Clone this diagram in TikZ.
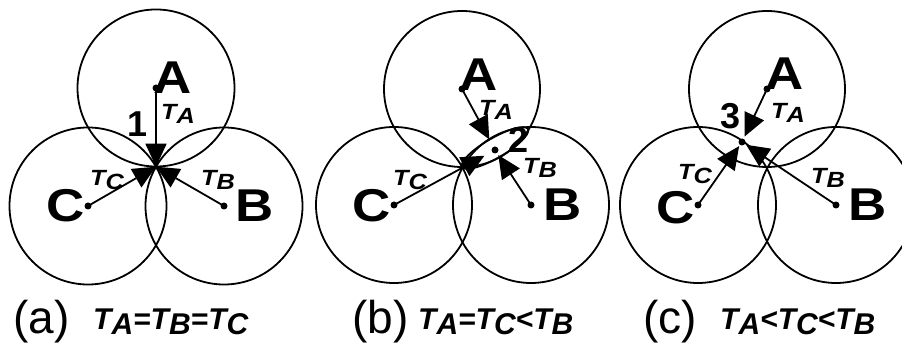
\documentclass[tikz,border=0pt]{standalone}
\usepackage{fontspec}
\setmainfont{Liberation Sans}
\usetikzlibrary{arrows.meta}
\newcommand\Ts[1]{T\raisebox{-0.15em}{#1}}
\newcommand\wide[1]{\scalebox{1.15}[1]{#1}}
\begin{document}
\begin{tikzpicture}[x=1pt, y=-1pt, line width=1.8pt, line join=round,
        arr/.style={-{Triangle[length=23pt, width=21pt]}},
        big/.style={font=\fontsize{46}{46}\selectfont\bfseries},
        num/.style={font=\fontsize{36}{36}\selectfont\bfseries},
        tlab/.style={font=\fontsize{22}{22}\selectfont\bfseries\itshape},
        panel/.style={font=\fontsize{46}{46}\selectfont, anchor=base west},
        rel/.style={font=\fontsize{30}{30}\selectfont\bfseries\itshape, anchor=base west}]
        \def\r{78}
        \useasboundingbox (0,0) rectangle (902,344);
        \clip (0,0) rectangle (902,344);
        % (a)
        \coordinate (aA) at (156,88);
        \coordinate (aB) at (224,206);
        \coordinate (aC) at (88,206);
        \coordinate (aO) at (156,166.7);
        \foreach \p in {aA,aB,aC} \draw (\p) circle (78.5);
        \draw[arr] (aA) -- (aO);
        \draw[arr] (aB) -- (aO);
        \draw[arr] (aC) -- (aO);
        \foreach \p in {aA,aB,aC} \fill (\p) circle (3.5pt);
        \node[big] (aLA) at (173,78) {\wide{A}};
        \node[big] (aLB) at (255,206) {\wide{B}};
        \node[big] (aLC) at (66,206) {\wide{C}};
        \node[tlab] (aTA) at (178,114) {\wide{\Ts{A}}};
        \node[tlab] (aTB) at (218,180) {\wide{\Ts{B}}};
        \node[tlab] (aTC) at (107,180) {\wide{\Ts{C}}};
        \node[num] (aN) at (138,124) {1};
        % (b)
        \coordinate (bA) at (462,89);
        \coordinate (bB) at (531,205);
        \coordinate (bC) at (394,205);
        \coordinate (bP) at (495,150);
        \coordinate (bE) at (495,148);
        \foreach \p in {bA,bB,bC} \draw (\p) circle (\r);
        \draw[rotate around={30:(bE)}] (bE) ellipse (38 and 10);
        \draw[arr, shorten >=12pt] (bA) -- (bP);
        \draw[arr, shorten >=6pt] (bB) -- (bP);
        \draw[arr, shorten >=12pt] (bC) -- (bP);
        \foreach \p in {bA,bB,bC,bP} \fill (\p) circle (3.5pt);
        \node[big] (bLA) at (479,75) {\wide{A}};
        \node[big] (bLB) at (563,205) {\wide{B}};
        \node[big] (bLC) at (372,206) {\wide{C}};
        \node[tlab] (bTA) at (496,110) {\wide{\Ts{A}}};
        \node[tlab] (bTB) at (540,168) {\wide{\Ts{B}}};
        \node[tlab] (bTC) at (410,180) {\wide{\Ts{C}}};
        \node[num] (bN) at (519,140) {2};
        % (c)
        \coordinate (cA) at (767,89);
        \coordinate (cB) at (836,205);
        \coordinate (cC) at (698,205);
        \coordinate (cP) at (742,142);
        \foreach \p in {cA,cB,cC} \draw (\p) circle (\r);
        \draw[arr, shorten >=6pt] (cA) -- (cP);
        \draw[arr, shorten >=5pt] (cB) -- (cP);
        \draw[arr, shorten >=5pt] (cC) -- (cP);
        \foreach \p in {cA,cB,cC,cP} \fill (\p) circle (3.5pt);
        \node[big] (cLA) at (785,74) {\wide{A}};
        \node[big] (cLB) at (868,205) {\wide{B}};
        \node[big] (cLC) at (676,208) {\wide{C}};
        \node[tlab] (cTA) at (788,113) {\wide{\Ts{A}}};
        \node[tlab] (cTB) at (828,178) {\wide{\Ts{B}}};
        \node[tlab] (cTC) at (695,174) {\wide{\Ts{C}}};
        \node[num] (cN) at (731,116) {3};
        % captions
        \node[panel] (aCap) at (9,334) {(a)};
        \node[rel] (aRel) at (89,330) {\Ts{A}=\Ts{B}=\Ts{C}};
        \node[panel] (bCap) at (348,334) {(b)};
        \node[rel] (bRel) at (414,330) {\Ts{A}=\Ts{C}<\Ts{B}};
        \node[panel] (cCap) at (639,334) {(c)};
        \node[rel] (cRel) at (716,330) {\Ts{A}<\Ts{C}<\Ts{B}};
    \end{tikzpicture}
\end{document}
